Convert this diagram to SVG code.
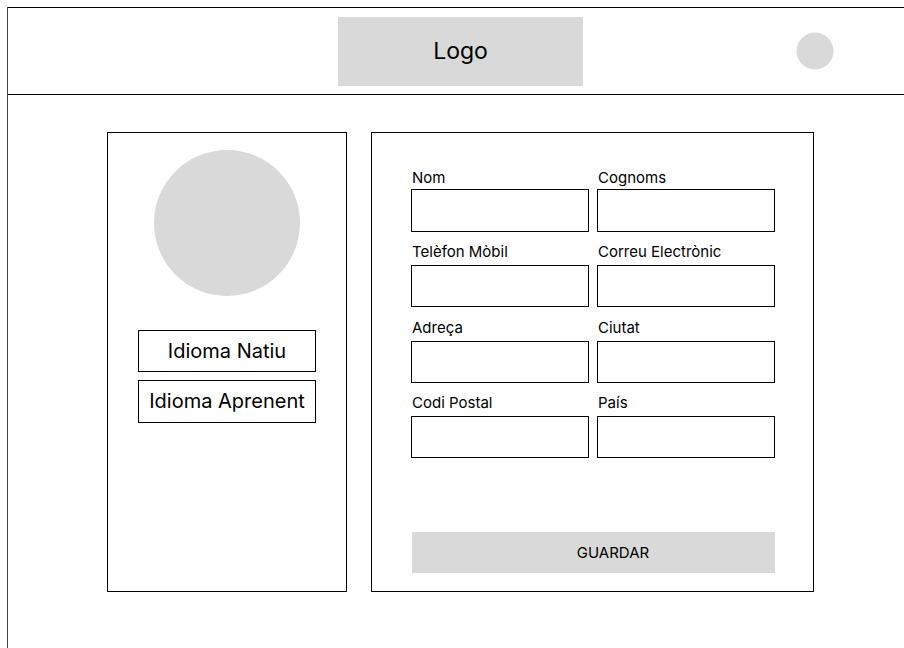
<svg xmlns="http://www.w3.org/2000/svg" width="904" height="648" viewBox="0 0 904 648">
  <style>
    .frame { fill: none; stroke: #000; stroke-width: 1; }
    .field { fill: #fff; stroke: #000; stroke-width: 1; }
    .block { fill: #d9d9d9; }
    .lbl { font-family: Inter, "Liberation Sans", sans-serif; font-size: 15px; fill: #000; }
    .btn { font-family: Inter, "Liberation Sans", sans-serif; font-size: 20px; fill: #000; text-anchor: middle; }
  </style>
  <rect width="904" height="648" fill="#fff"/>

  <!-- page frame -->
  <g id="header">
    <line x1="7.5" y1="7.5" x2="904" y2="7.5" class="frame"/>
    <line x1="7.5" y1="94.5" x2="904" y2="94.5" class="frame"/>
    <line x1="7.5" y1="7" x2="7.5" y2="648" stroke="#444" stroke-width="1"/>
  </g>
  <g id="logo">
    <rect x="338" y="17" width="245" height="69" class="block"/>
    <text x="460.5" y="59" font-family="Inter, 'Liberation Sans', sans-serif" font-size="23" text-anchor="middle">Logo</text>
  </g>
  <g id="user-avatar">
    <ellipse cx="815" cy="51" rx="18.5" ry="18.5" class="block"/>
  </g>

  <!-- profile panel -->
  <g id="profile-panel">
    <rect x="107.5" y="132.5" width="239" height="459" class="frame"/>
    <circle cx="227" cy="223" r="73" class="block"/>
  </g>
  <g id="native-language">
    <rect x="138.5" y="330.5" width="177" height="41" class="field"/>
    <text x="227" y="358" class="btn">Idioma Natiu</text>
  </g>
  <g id="learning-language">
    <rect x="138.5" y="380.5" width="177" height="42" class="field"/>
    <text x="227" y="408" class="btn">Idioma Aprenent</text>
  </g>

  <!-- form panel -->
  <g id="form-panel">
    <rect x="371.5" y="132.5" width="442" height="459" class="frame"/>
  </g>
  <g id="field-nom">
    <text x="412" y="183" class="lbl">Nom</text>
    <rect x="411.5" y="189.5" width="177" height="42" class="field"/>
  </g>
  <g id="field-cognoms">
    <text x="598" y="183" class="lbl">Cognoms</text>
    <rect x="597.5" y="189.5" width="177" height="42" class="field"/>
  </g>
  <g id="field-telefon">
    <text x="412" y="257" class="lbl">Telèfon Mòbil</text>
    <rect x="411.5" y="265.5" width="177" height="41" class="field"/>
  </g>
  <g id="field-correu">
    <text x="598" y="257" class="lbl">Correu Electrònic</text>
    <rect x="597.5" y="265.5" width="177" height="41" class="field"/>
  </g>
  <g id="field-adreca">
    <text x="412" y="333" class="lbl">Adreça</text>
    <rect x="411.5" y="341.5" width="177" height="41" class="field"/>
  </g>
  <g id="field-ciutat">
    <text x="598" y="333" class="lbl">Ciutat</text>
    <rect x="597.5" y="341.5" width="177" height="41" class="field"/>
  </g>
  <g id="field-codi-postal">
    <text x="412" y="408" class="lbl">Codi Postal</text>
    <rect x="411.5" y="416.5" width="177" height="41" class="field"/>
  </g>
  <g id="field-pais">
    <text x="598" y="408" class="lbl">País</text>
    <rect x="597.5" y="416.5" width="177" height="41" class="field"/>
  </g>
  <g id="save-button">
    <rect x="412" y="532" width="363" height="41" class="block"/>
    <text x="613" y="558" class="lbl" text-anchor="middle">GUARDAR</text>
  </g>

  <g id="connectors"/>
</svg>
